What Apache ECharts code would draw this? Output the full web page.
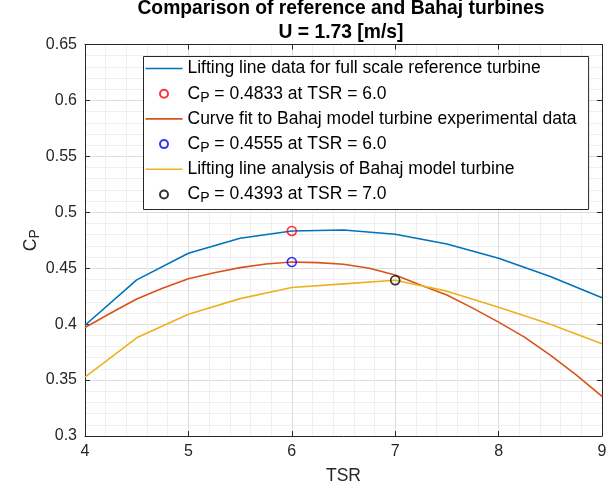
<!DOCTYPE html>
<html>
<head>
<meta charset="utf-8">
<script src="https://cdn.jsdelivr.net/npm/echarts@6/dist/echarts.min.js"></script>
<style>
html,body{margin:0;padding:0;background:#fff;}
#chart{width:616px;height:490px;}
</style>
</head>
<body>
<div id="chart"></div>
<script>
// ---- data ----
const titleLines = ['Comparison of reference and Bahaj turbines', 'U = 1.73 [m/s]'];
const xTicks = [4, 5, 6, 7, 8, 9];
const yTicks = [0.3, 0.35, 0.4, 0.45, 0.5, 0.55, 0.6, 0.65];

const tsrCoarse = [4, 4.5, 5, 5.5, 6, 6.5, 7, 7.5, 8, 8.5, 9];
const cpRefLL   = [0.399, 0.4396, 0.4634, 0.4768, 0.4833, 0.4842, 0.4803, 0.4717, 0.4589, 0.4425, 0.4235];
const cpBahajLL = [0.3527, 0.3878, 0.4089, 0.4228, 0.4327, 0.4360, 0.4393, 0.4295, 0.4152, 0.4000, 0.3824];

const tsrFine    = [4, 4.25, 4.5, 4.75, 5, 5.25, 5.5, 5.75, 6, 6.25, 6.5, 6.75, 7, 7.25, 7.5, 7.75, 8, 8.25, 8.5, 8.75, 9];
const cpBahajFit = [0.397, 0.410, 0.4225, 0.432, 0.4405, 0.446, 0.4505, 0.4538, 0.4555, 0.455, 0.4536, 0.450, 0.444, 0.4348, 0.426, 0.4143, 0.4018, 0.3884, 0.3723, 0.3547, 0.3354];

const peakNames = ['C_P = 0.4833 at TSR = 6.0', 'C_P = 0.4555 at TSR = 6.0', 'C_P = 0.4393 at TSR = 7.0'];
const peakTSR = [6.0, 6.0, 7.0];
const peakCP  = [0.4833, 0.4555, 0.4393];

const lineNames = ['Lifting line data for full scale reference turbine',
                   'Curve fit to Bahaj model turbine experimental data',
                   'Lifting line analysis of Bahaj model turbine'];

// ---- chart ----
const FONT = '"Liberation Sans", Arial, Helvetica, sans-serif';
const AX = '#262626';
const pair = (xs, ys) => xs.map((x, i) => [x, ys[i]]);
const LINE_ICON = 'path://M0,0H38V1.6H0Z';

const chart = echarts.init(document.getElementById('chart'), null, {renderer: 'canvas'});

function lineSeries(name, xs, ys, color) {
  return {type: 'line', name, data: pair(xs, ys), symbol: 'none', smooth: false,
          lineStyle: {color, width: 1.6}, itemStyle: {color}, z: 3, animation: false};
}
function peakSeries(i, color) {
  return {type: 'scatter', name: peakNames[i], data: [[peakTSR[i], peakCP[i]]],
          symbol: 'circle', symbolSize: 9,
          itemStyle: {color: 'rgba(0,0,0,0)', borderColor: color, borderWidth: 1.6},
          z: 5, animation: false};
}

const baseAxisX = {type: 'value', min: 4, max: 9, interval: 1};
const baseAxisY = {type: 'value', min: 0.3, max: 0.65, interval: 0.05};

const option = {
  animation: false,
  backgroundColor: '#fff',
  title: {
    text: titleLines.join('\n'),
    left: 336, top: -8, textAlign: 'center',
    textStyle: {fontFamily: FONT, fontSize: 19.3, fontWeight: 'bold', color: '#000', lineHeight: 24}
  },
  grid: {left: 85, right: 14, top: 44.5, bottom: 53.5, containLabel: false},
  legend: {
    orient: 'vertical', left: 143.5, top: 56.5,
    itemWidth: 37, itemHeight: 8, itemGap: 3.2,
    padding: [1, 12, 4, 2],
    borderColor: AX, borderWidth: 1, backgroundColor: '#fff',
    selectedMode: false,
    textStyle: {
      fontFamily: FONT, fontSize: 17.5, color: '#000', lineHeight: 22,
      rich: {
        c: {fontFamily: FONT, fontSize: 17.5, color: '#000', lineHeight: 22},
        sub: {fontFamily: FONT, fontSize: 14, color: '#000', lineHeight: 10, verticalAlign: 'bottom'}
      }
    },
    formatter: function (name) {
      if (name.indexOf('C_P') === 0) return '{c|C}{sub|P}{c|' + name.slice(3) + '}';
      return name;
    },
    data: [
      {name: lineNames[0], icon: LINE_ICON},
      {name: peakNames[0]},
      {name: lineNames[1], icon: LINE_ICON},
      {name: peakNames[1]},
      {name: lineNames[2], icon: LINE_ICON},
      {name: peakNames[2]}
    ]
  },
  xAxis: [
    Object.assign({}, baseAxisX, {
      position: 'bottom',
      name: 'TSR', nameLocation: 'middle', nameGap: 31, nameMoveOverlap: false,
      nameTextStyle: {fontFamily: FONT, fontSize: 17.5, color: AX},
      axisLine: {show: true, onZero: false, lineStyle: {color: AX, width: 1}},
      axisTick: {show: true, inside: true, length: 5, lineStyle: {color: AX}},
      axisLabel: {show: true, margin: 8, fontFamily: FONT, fontSize: 16, color: AX,
                  formatter: v => String(v)},
      splitLine: {show: true, lineStyle: {color: '#dcdcdc', width: 1}},
      minorTick: {show: false, splitNumber: 5},
      minorSplitLine: {show: true, lineStyle: {color: '#efefef', width: 1}}
    }),
    Object.assign({}, baseAxisX, {
      position: 'top',
      axisLine: {show: true, onZero: false, lineStyle: {color: AX, width: 1}},
      axisTick: {show: true, inside: true, length: 5, lineStyle: {color: AX}},
      axisLabel: {show: false},
      splitLine: {show: false}
    })
  ],
  yAxis: [
    Object.assign({}, baseAxisY, {
      position: 'left',
      name: '{c|C}{s|P}', nameLocation: 'middle', nameGap: 43, nameMoveOverlap: false,
      nameTextStyle: {
        fontFamily: FONT, fontSize: 17.5, color: AX,
        rich: {
          c: {fontFamily: FONT, fontSize: 17.5, color: AX, lineHeight: 22},
          s: {fontFamily: FONT, fontSize: 14, color: AX, lineHeight: 10, verticalAlign: 'bottom'}
        }
      },
      axisLine: {show: true, onZero: false, lineStyle: {color: AX, width: 1}},
      axisTick: {show: true, inside: true, length: 5, lineStyle: {color: AX}},
      axisLabel: {show: true, margin: 8, fontFamily: FONT, fontSize: 16, color: AX,
                  formatter: v => String(Math.round(v * 100) / 100)},
      splitLine: {show: true, lineStyle: {color: '#dcdcdc', width: 1}},
      minorTick: {show: false, splitNumber: 5},
      minorSplitLine: {show: true, lineStyle: {color: '#efefef', width: 1}}
    }),
    Object.assign({}, baseAxisY, {
      position: 'right',
      axisLine: {show: true, onZero: false, lineStyle: {color: AX, width: 1}},
      axisTick: {show: true, inside: true, length: 5, lineStyle: {color: AX}},
      axisLabel: {show: false},
      splitLine: {show: false}
    })
  ],
  series: [
    lineSeries(lineNames[0], tsrCoarse, cpRefLL, '#0072BD'),
    peakSeries(0, '#FF0000'),
    lineSeries(lineNames[1], tsrFine, cpBahajFit, '#D95319'),
    peakSeries(1, '#0000FF'),
    lineSeries(lineNames[2], tsrCoarse, cpBahajLL, '#EDB120'),
    peakSeries(2, '#000000')
  ]
};
chart.setOption(option);
</script>
</body>
</html>
